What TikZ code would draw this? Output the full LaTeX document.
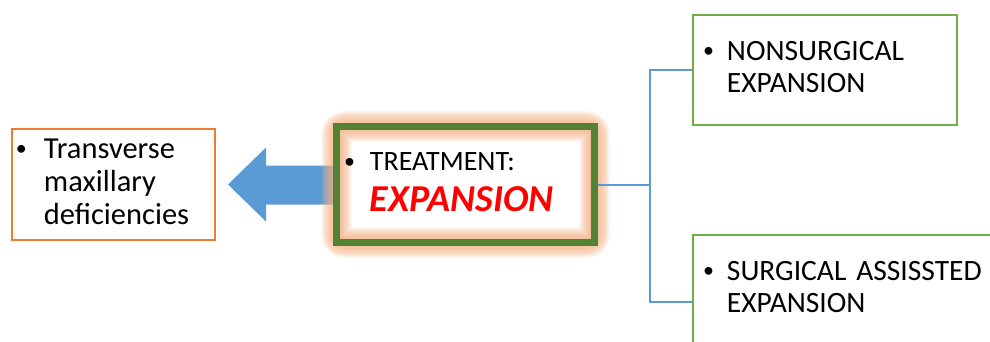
\documentclass[tikz,border=0pt]{standalone}
\usepackage{fontspec}
\setmainfont{Carlito}
\usetikzlibrary{arrows.meta,positioning,backgrounds}
\definecolor{OrangeLine}{HTML}{ED7D31}
\definecolor{DarkGreen}{HTML}{548235}
\definecolor{LightGreen}{HTML}{70AD47}
\definecolor{SkyBlue}{HTML}{5B9BD5}
\definecolor{Glow}{HTML}{F4B183}
\definecolor{Scarlet}{HTML}{FF0000}
\newcommand\bpt[2][12pt]{\begin{tabular}[t]{@{}l@{\hspace{#1}}l@{}}\raisebox{2.5pt}{\fontsize{22}{22}\selectfont\textbullet}&\begin{tabular}[t]{@{}l@{}}#2\end{tabular}\end{tabular}}

\begin{document}
\begin{tikzpicture}[x=1pt,y=-1pt,every node/.style={align=left,font=\fontsize{29.5}{32}\selectfont}]
\useasboundingbox (0,0) rectangle (990,342);
\node[draw=DarkGreen,line width=7pt,minimum width=258pt,minimum height=116pt,text width=243pt,inner xsep=7.5pt] (treat) at (465.5,184.5) {\bpt[15pt]{\fontsize{28}{30}\selectfont TREATMENT:\\[6pt]{\fontsize{38}{38}\selectfont\bfseries\itshape\color{Scarlet}EXPANSION}}};
\node[draw=OrangeLine,line width=2pt,minimum height=110pt,text width=195pt,inner xsep=4pt,left=117pt of treat,font=\fontsize{30.5}{33}\selectfont] (defic) {\bpt[17pt]{Transverse\\maxillary\\deficiencies}};
\node[draw=LightGreen,line width=2pt,minimum height=110pt,text width=244pt,inner xsep=10pt,right=94pt of treat,yshift=114.5pt] (nonsurg) {\bpt[13pt]{NONSURGICAL\\EXPANSION}};
\node[draw=LightGreen,line width=2pt,minimum height=110pt,text width=300pt,inner xsep=10pt,right=94pt of treat,yshift=-105.5pt] (surg) {\bpt[13pt]{SURGICAL ASSISSTED\\EXPANSION}};
\coordinate (fork) at ([xshift=52pt]treat.east);
% block arrow, white box and glow go under the boxes
\begin{scope}[on background layer]
\fill[SkyBlue] ([xshift=12pt]defic.east) -- ++(38,-37) -- ++(0,18) -- ([yshift=19pt]treat.west)
  -- ([yshift=-20pt]treat.west) -- ([xshift=50pt,yshift=-20pt]defic.east) -- ++(0,17) -- cycle;
\fill[white] (treat.north west) rectangle (treat.south east);
\foreach \w in {30,27,24,21,18,15,12,9,6}
  \draw[Glow,line width=\w pt,opacity=0.17,rounded corners=8pt] ([shift={(3.5,3.5)}]treat.north west) rectangle ([shift={(-3.5,-3.5)}]treat.south east);
\end{scope}
\draw[SkyBlue,line width=2pt] (treat.east) -- (fork) |- (nonsurg.west);
\draw[SkyBlue,line width=2pt] (fork) |- ([yshift=-12pt]surg.west);
\end{tikzpicture}
\end{document}
